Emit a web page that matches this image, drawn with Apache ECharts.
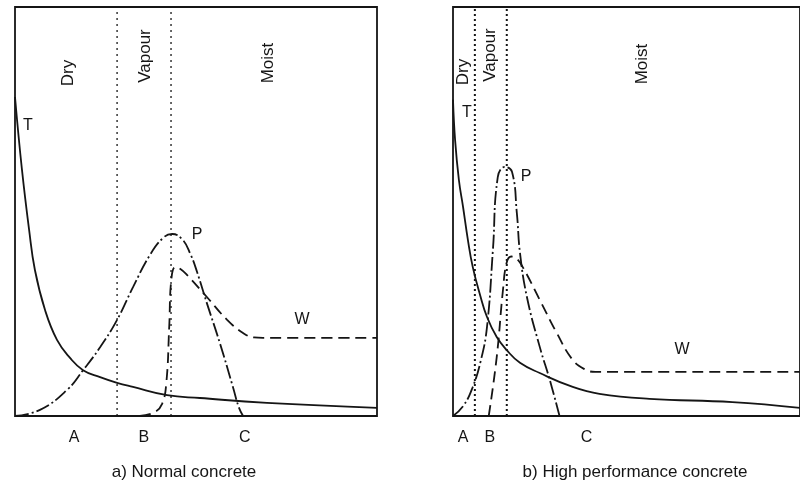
<!DOCTYPE html>
<html>
<head>
<meta charset="utf-8">
<script src="https://cdn.jsdelivr.net/npm/echarts@6/dist/echarts.min.js"></script>
<style>
  html, body { margin: 0; padding: 0; background: #fff; }
  #chart { width: 800px; height: 488px; }
</style>
</head>
<body>
<div id="chart"></div>
<script>
// x: 0..100 across each panel, y: 0..100 from bottom to top

// a) normal concrete
var normalT = [[0, 78], [1.9, 60.4], [3.9, 45.5], [5.5, 35.7], [8.3, 25.9], [11.6, 18.6], [15.2, 14.2],
  [18.8, 11.2], [23.5, 9.5], [28.2, 8.1], [32.6, 7.1], [42, 5.1], [51.1, 4.4], [69.6, 3.2], [100, 2]];
var normalP = [[0, 0], [6.9, 1.5], [14.4, 6.4], [18.8, 11.2], [23.5, 16.8], [28.2, 23.5], [32.6, 31.5],
  [37.3, 39.4], [41, 43.6], [43.4, 44.5], [46.2, 43.2], [48.5, 39.5], [50.3, 35.2], [53, 27.6], [56.6, 17.8],
  [60.2, 7.1], [61.8, 2.2], [63, 0]];
var normalW = [[34.5, 0], [38.5, 0.9], [40.6, 2.9], [41.8, 8.1], [42.6, 21.8], [43.2, 33.5], [44.3, 36.4],
  [45.6, 36], [47.5, 34.5], [53, 29.1], [58.6, 23.5], [63, 20.3], [66, 19.2], [68.5, 19.1], [100, 19.1]];
var normalZones = [28.2, 43.1];
var normalMarks = [16.3, 35.6, 63.5];

// b) high performance concrete
var hpcT = [[0, 77.3], [0.6, 67.5], [1.7, 57.7], [2.9, 51.1], [4.3, 43], [5.7, 36.4], [7.8, 29.6],
  [9.8, 24.2], [12.6, 19.3], [15.5, 16.1], [19.3, 13], [25, 10.5], [34.5, 7.1], [42.2, 5.4],
  [56.6, 4.2], [80.5, 3.4], [100, 2]];
var hpcP = [[0, 0], [3, 2.5], [5.7, 7.1], [8, 13.5], [9.8, 21.8], [11.5, 40.6], [12.9, 58.4],
  [14.9, 60.9], [17, 59.7], [18.4, 49.6], [19.3, 39.9], [21.3, 29.1], [25, 16.9], [27.9, 8.8], [30.7, 0]];
var hpcW = [[10.3, 0], [12.6, 14.4], [14.4, 30.8], [15.5, 37.6], [16.8, 39], [18.2, 38.6], [20.1, 36.4],
  [25, 28.4], [29.9, 20.3], [34.5, 13.7], [38, 11.4], [41, 10.8], [100, 10.8]];
var hpcZones = [6.3, 15.5];
var hpcMarks = [2.9, 10.6, 38.5];

var markNames = ['A', 'B', 'C'];

var ink = '#151515';
var fontFamily = '"Liberation Sans", Arial, sans-serif';

var chart = echarts.init(document.getElementById('chart'), null, { renderer: 'canvas' });

function makeAxisX(idx, marks) {
  return {
    gridIndex: idx,
    type: 'value',
    min: 0,
    max: 100,
    axisLine: { show: false },
    axisTick: { show: false },
    splitLine: { show: false },
    axisLabel: {
      customValues: marks,
      margin: 14,
      color: ink,
      fontSize: 16,
      fontFamily: fontFamily,
      formatter: function (v) {
        var i = marks.indexOf(v);
        return i >= 0 ? markNames[i] : '';
      }
    }
  };
}

function makeAxisY(idx) {
  return {
    gridIndex: idx,
    type: 'value',
    min: 0,
    max: 100,
    axisLine: { show: false },
    axisTick: { show: false },
    splitLine: { show: false },
    axisLabel: { show: false }
  };
}

function curve(idx, data, dash) {
  return {
    type: 'line',
    xAxisIndex: idx,
    yAxisIndex: idx,
    data: data,
    smooth: 0.45,
    showSymbol: false,
    silent: true,
    lineStyle: { color: ink, width: 1.8, type: dash }
  };
}

function zoneLines(idx, zones, width, dash) {
  return zones.map(function (x) {
    return {
      type: 'line',
      xAxisIndex: idx,
      yAxisIndex: idx,
      data: [[x, 0], [x, 100]],
      showSymbol: false,
      silent: true,
      lineStyle: { color: ink, width: width, type: dash }
    };
  });
}

function txt(s, x, y, size, rot) {
  return {
    type: 'text',
    x: x,
    y: y,
    rotation: rot || 0,
    style: {
      text: s,
      font: size + 'px ' + fontFamily,
      fill: ink,
      align: 'center',
      verticalAlign: 'middle'
    }
  };
}

var up = Math.PI / 2;

var option = {
  backgroundColor: '#fff',
  animation: false,
  grid: [
    { left: 15, top: 7, width: 362, height: 409, show: true, borderColor: ink, borderWidth: 1.8, backgroundColor: '#fff' },
    { left: 453, top: 7, width: 348, height: 409, show: true, borderColor: ink, borderWidth: 1.8, backgroundColor: '#fff' }
  ],
  xAxis: [makeAxisX(0, normalMarks), makeAxisX(1, hpcMarks)],
  yAxis: [makeAxisY(0), makeAxisY(1)],
  series: [].concat(
    zoneLines(0, normalZones, 1.3, [2, 4]),
    zoneLines(1, hpcZones, 2, [2, 3]),
    [
      curve(0, normalT, 'solid'),
      curve(0, normalP, [14, 3, 2, 3]),
      curve(0, normalW, [11, 6]),
      curve(1, hpcT, 'solid'),
      curve(1, hpcP, [14, 3, 2, 3]),
      curve(1, hpcW, [11, 6])
    ]
  ),
  graphic: [
    txt('Dry', 68, 73, 17, up),
    txt('Vapour', 145, 56, 17, up),
    txt('Moist', 268, 63, 17, up),
    txt('T', 28, 126, 16),
    txt('P', 197, 235, 16),
    txt('W', 302, 320, 16),
    txt('a) Normal concrete', 184, 472, 17),

    txt('Dry', 463, 72, 17, up),
    txt('Vapour', 490, 55, 17, up),
    txt('Moist', 642, 64, 17, up),
    txt('T', 467, 113, 16),
    txt('P', 526, 177, 16),
    txt('W', 682, 350, 16),
    txt('b) High performance concrete', 635, 472, 17)
  ]
};

chart.setOption(option);
</script>
</body>
</html>
